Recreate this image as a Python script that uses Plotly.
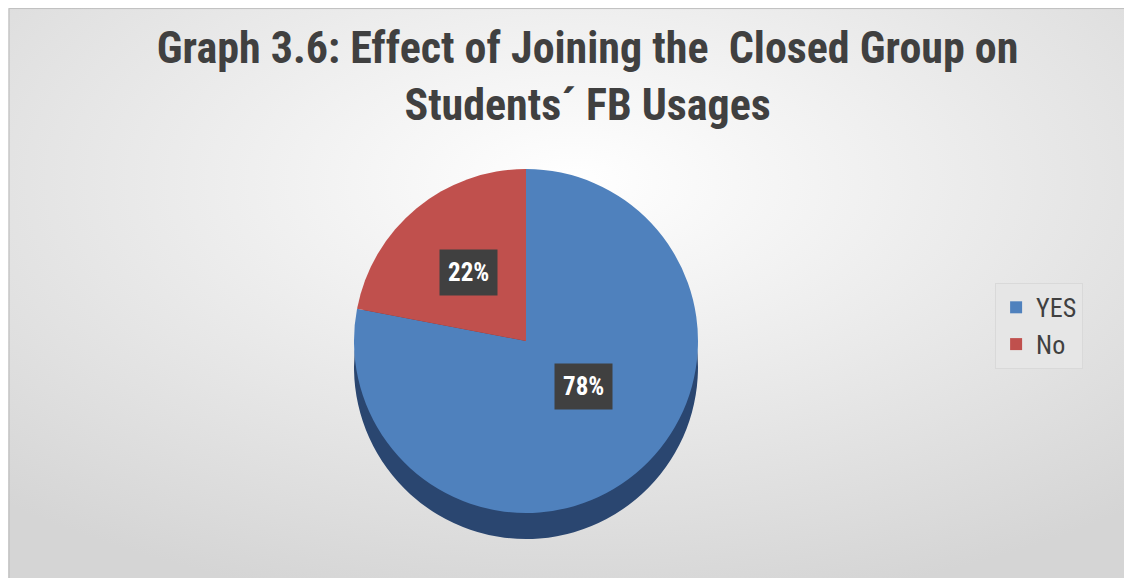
import math
import urllib.parse
import plotly.graph_objects as go

# ---- data ----
labels = ["YES", "No"]
values = [78, 22]
colors_top = ["#4f81bd", "#c0504d"]
colors_side = ["#2a4670", "#7a2f2d"]
title_text = "Graph 3.6: Effect of Joining the  Closed Group on<br>Students´ FB Usages"

W, H = 1132, 578
FONT = "Liberation Sans Narrow, Arial Narrow, Roboto Condensed, Roboto, sans-serif"

# pie placement (paper fractions, margins are zero)
px_c, py_c, R = 518, 333, 172           # centre/radius in pixels
dom_x = [(px_c - R) / W, (px_c + R) / W]
dom_y = [1 - (py_c + R) / H, 1 - (py_c - R) / H]
depth = 26
dom_y_side = [dom_y[0] - depth / H, dom_y[1] - depth / H]

fig = go.Figure()

# "side" of the pseudo-3D pie: same values, shifted downward
fig.add_trace(go.Pie(
    labels=labels, values=values, sort=False, direction="clockwise", rotation=0,
    marker=dict(colors=colors_side, line=dict(width=0)),
    textinfo="none", hoverinfo="skip", showlegend=False,
    domain=dict(x=dom_x, y=dom_y_side),
))

# top face
fig.add_trace(go.Pie(
    labels=labels, values=values, sort=False, direction="clockwise", rotation=0,
    marker=dict(colors=colors_top, line=dict(width=0)),
    textinfo="none", showlegend=True,
    domain=dict(x=dom_x, y=dom_y),
))

# percentage labels with dark boxes, positioned from the data (slice mid-angles)
total = sum(values)
cum = 0.0
cx = (dom_x[0] + dom_x[1]) / 2 * W
cy = (dom_y[0] + dom_y[1]) / 2 * H
for v in values:
    mid = (cum + v / 2) / total * 2 * math.pi
    cum += v
    r = 0.52 * R
    ax = (cx + r * math.sin(mid)) / W
    ay = (cy + r * math.cos(mid)) / H
    fig.add_annotation(
        x=ax, y=ay, xref="paper", yref="paper",
        text=f"<b>{round(v / total * 100)}%</b>", showarrow=False,
        font=dict(family=FONT, size=25, color="white"),
        bgcolor="#404040", borderpad=8,
    )

# radial gradient background as an SVG image
svg = (
    f'<svg xmlns="http://www.w3.org/2000/svg" width="{W}" height="{H}">'
    '<defs><radialGradient id="g" cx="50%" cy="30%" r="75%">'
    '<stop offset="0%" stop-color="#ffffff"/>'
    '<stop offset="100%" stop-color="#d5d5d5"/>'
    '</radialGradient></defs>'
    f'<rect width="{W}" height="{H}" fill="url(#g)"/></svg>'
)
src = "data:image/svg+xml;charset=utf-8," + urllib.parse.quote(svg)
fig.add_layout_image(dict(
    source=src, xref="paper", yref="paper", x=0, y=1, sizex=1, sizey=1,
    sizing="stretch", layer="below", xanchor="left", yanchor="top",
))

fig.add_shape(type="rect", xref="paper", yref="paper", x0=0.001, y0=0.001, x1=0.999, y1=0.999,
              line=dict(color="#bfbfbf", width=1))

fig.update_layout(
    width=W, height=H,
    margin=dict(l=0, r=0, t=0, b=0),
    paper_bgcolor="#e8e8e8", plot_bgcolor="rgba(0,0,0,0)",
    title=dict(text=f"<b>{title_text}</b>", x=0.512, xanchor="center", y=0.905, yanchor="middle",
               font=dict(family=FONT, size=44, color="#404040")),
    legend=dict(x=0.872, y=0.45, xanchor="left", yanchor="middle",
                bgcolor="#e6e6e6", bordercolor="#d9d9d9", borderwidth=1,
                font=dict(family=FONT, size=26, color="#404040"),
                itemsizing="constant"),
)

fig.write_html("out.html")
